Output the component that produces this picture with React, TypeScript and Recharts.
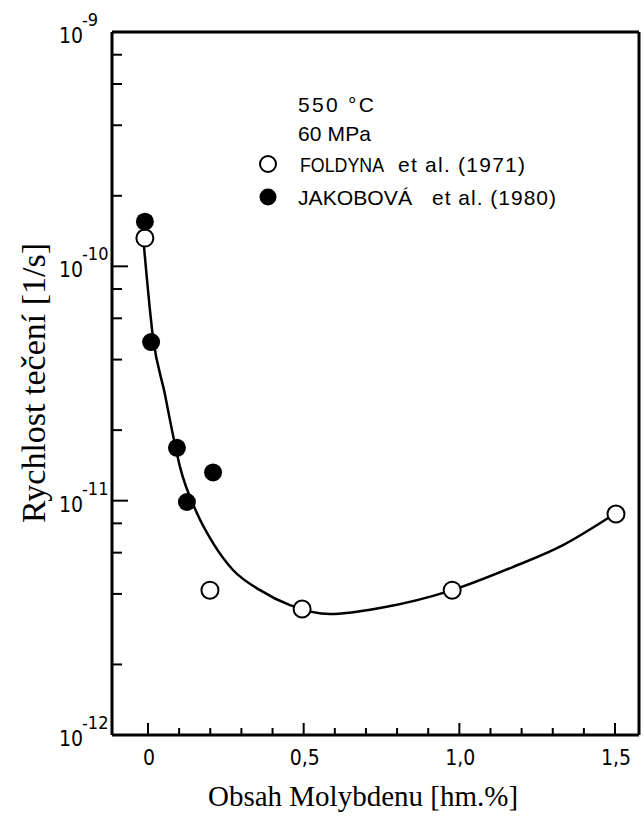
import { ReferenceLine, Scatter, ScatterChart, XAxis, YAxis } from 'recharts';

// FOLDYNA et al. (1971) – open circles
const foldynaX = [-0.01, 0.199, 0.495, 0.977, 1.503];
const foldynaY = [1.32e-10, 4.15e-12, 3.45e-12, 4.15e-12, 8.77e-12];

// JAKOBOVÁ et al. (1980) – filled circles
const jakobovaX = [-0.01, 0.01, 0.093, 0.125, 0.209];
const jakobovaY = [1.55e-10, 4.75e-11, 1.68e-11, 9.87e-12, 1.32e-11];

// hand-drawn trend curve
const curveX = [-0.013, 0.016, 0.055, 0.077, 0.103, 0.157, 0.209, 0.273, 0.36, 0.456, 0.585, 0.745, 0.977, 1.172, 1.333, 1.478];
const curveY = [1.22e-10, 4.99e-11, 2.82e-11, 2.0e-11, 1.39e-11, 8.85e-12, 6.59e-12, 5.06e-12, 4.15e-12, 3.58e-12, 3.28e-12, 3.48e-12, 4.15e-12, 5.21e-12, 6.46e-12, 8.43e-12];

const xTicks = [0, 0.1, 0.2, 0.3, 0.4, 0.5, 0.6, 0.7, 0.8, 0.9, 1.0, 1.1, 1.2, 1.3, 1.4, 1.5];
const xTickLabels = ['0', '0,5', '1,0', '1,5'];
const yTicks = [
  1e-12, 2e-12, 4e-12, 6e-12, 8e-12,
  1e-11, 2e-11, 4e-11, 6e-11, 8e-11,
  1e-10, 2e-10, 4e-10, 6e-10, 8e-10,
  1e-9,
];

const X_MIN = -0.1156;
const X_MAX = 1.577;

const zip = (xs: number[], ys: number[]) => xs.map((x, i) => ({ x, y: ys[i] }));
const foldyna = zip(foldynaX, foldynaY);
const jakobova = zip(jakobovaX, jakobovaY);
const curve = zip(curveX, curveY);

const tickFont = '"Liberation Sans Narrow", "DejaVu Sans Condensed", "Liberation Sans", Arial, sans-serif';
const serif = '"Liberation Serif", "Times New Roman", serif';

const XTick = (props: any) => {
  const { x, y, payload } = props;
  const v = payload.value as number;
  const half = Math.round(v * 2);
  const major = Math.abs(v * 2 - half) < 1e-6;
  return (
    <g>
      <line x1={x} x2={x} y1={y} y2={y - (major ? 12 : 7)} stroke="#000" strokeWidth={2} />
      {major && (
        <text x={x + 1} y={y + 30} textAnchor="middle" fontSize={21} fontFamily={tickFont} fill="#000">
          {xTickLabels[half]}
        </text>
      )}
    </g>
  );
};

const YTick = (props: any) => {
  const { x, y, payload } = props;
  const v = payload.value as number;
  const exp = Math.round(Math.log10(v));
  const major = Math.abs(Math.log10(v) - exp) < 1e-6;
  return (
    <g>
      <line x1={x} x2={x + (major ? 16 : 10)} y1={y} y2={y} stroke="#000" strokeWidth={2} />
      {major && (
        <g fontFamily={tickFont} fill="#000">
          <text x={x - 29} y={y + 11} textAnchor="end" fontSize={21}>10</text>
          <text x={x - 30} y={y - 6} textAnchor="start" fontSize={18}>{`-${-exp}`}</text>
        </g>
      )}
    </g>
  );
};

const OpenDot = (props: any) => (
  <circle cx={props.cx} cy={props.cy} r={8.5} fill="#fff" stroke="#000" strokeWidth={2} />
);
const FilledDot = (props: any) => <circle cx={props.cx} cy={props.cy} r={9} fill="#000" />;
const NoDot = () => <g />;

export default function App() {
  return (
    <div style={{ position: 'absolute', left: 0, top: 0, width: 644, height: 816, background: '#fff' }}>
      <ScatterChart width={644} height={816} margin={{ top: 32, right: 5, bottom: 51, left: 72 }}>
        <XAxis
          type="number"
          dataKey="x"
          domain={[X_MIN, X_MAX]}
          ticks={xTicks}
          allowDataOverflow
          height={30}
          tickSize={0}
          tickMargin={0}
          tickLine={false}
          axisLine={{ stroke: '#000', strokeWidth: 3 }}
          tick={<XTick />}
          interval={0}
        />
        <YAxis
          type="number"
          dataKey="y"
          scale="log"
          domain={[1e-12, 1e-9]}
          ticks={yTicks}
          allowDataOverflow
          width={40}
          tickSize={0}
          tickMargin={0}
          tickLine={false}
          axisLine={{ stroke: '#000', strokeWidth: 3 }}
          tick={<YTick />}
          interval={0}
        />
        <ReferenceLine y={1e-9} stroke="#000" strokeWidth={3} ifOverflow="visible" />
        <ReferenceLine x={X_MAX} stroke="#000" strokeWidth={3} ifOverflow="visible" />
        <Scatter
          data={curve}
          line={{ stroke: '#000', strokeWidth: 2.5 }}
          lineJointType="monotoneX"
          shape={<NoDot />}
          isAnimationActive={false}
        />
        <Scatter data={foldyna} shape={<OpenDot />} isAnimationActive={false} />
        <Scatter data={jakobova} shape={<FilledDot />} isAnimationActive={false} />
      </ScatterChart>
      <svg
        width={644}
        height={816}
        style={{ position: 'absolute', left: 0, top: 0, pointerEvents: 'none' }}
      >
        <g fontFamily='"Liberation Sans", Arial, sans-serif' fontSize={21} fill="#000">
          <text x={298} y={112} textLength={76} lengthAdjust="spacing">550 °C</text>
          <text x={298} y={141} textLength={73} lengthAdjust="spacing">60 MPa</text>
          <circle cx={268} cy={164} r={8} fill="#fff" stroke="#000" strokeWidth={2} />
          <text x={300} y={172} textLength={84} lengthAdjust="spacingAndGlyphs">FOLDYNA</text>
          <text x={398} y={172} textLength={127} lengthAdjust="spacing">et al. (1971)</text>
          <circle cx={268} cy={197} r={8.5} fill="#000" />
          <text x={298} y={205} textLength={114} lengthAdjust="spacingAndGlyphs">JAKOBOVÁ</text>
          <text x={432} y={205} textLength={124} lengthAdjust="spacing">et al. (1980)</text>
        </g>
        <text x={363} y={806} textAnchor="middle" fontFamily={serif} fontSize={29} fill="#000">
          Obsah Molybdenu [hm.%]
        </text>
        <text
          transform="translate(45,383) rotate(-90)"
          textAnchor="middle"
          fontFamily={serif}
          fontSize={34}
          fill="#000"
        >
          Rychlost tečení [1/s]
        </text>
      </svg>
    </div>
  );
}
